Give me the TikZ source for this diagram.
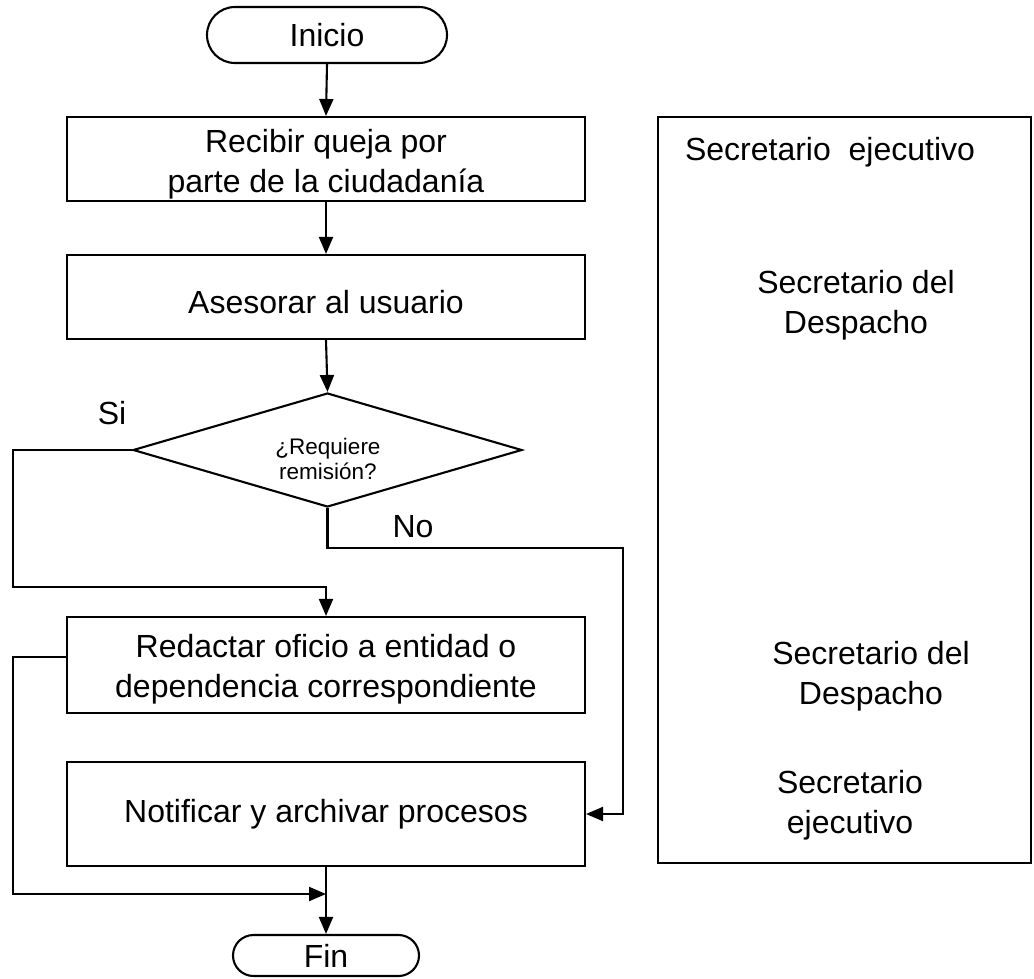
\documentclass[tikz,border=0pt]{standalone}
\usepackage{fontspec}
\setmainfont{Liberation Sans}
\usetikzlibrary{arrows.meta,shapes.misc,shapes.geometric}
\tikzset{
  lw/.style={line width=2.1pt},
  procbox/.style={draw,lw,rectangle,minimum width=518pt,inner sep=0pt},
  txt/.style={inner sep=0pt,align=center,font=\fontsize{32}{40}\selectfont},
  termbox/.style={draw,lw,rounded rectangle,inner sep=0pt,font=\fontsize{32}{36}\selectfont},
  decbox/.style={draw,lw,diamond,aspect=3.41,minimum width=389pt,minimum height=114pt,inner sep=0pt},
  dtxt/.style={inner sep=0pt,align=center,font=\fontsize{22.5}{25}\selectfont},
  arr/.style={lw,-{Triangle[length=17pt,width=14pt]}}
}
\begin{document}
\begin{tikzpicture}[x=1pt,y=-1pt]
\useasboundingbox[fill=white] (0,0) rectangle (1034,978);
% terminals
\node[termbox,minimum width=240pt,minimum height=56pt] (inicio) at (327,35) {Inicio};
\node[termbox,minimum width=186pt,minimum height=41pt] (fin) at (326,955.5) {Fin};
% process boxes
\node[procbox,minimum height=84pt] (b1) at (326,159) {};
\node[txt] (b1t) at (326,164) {Recibir queja por\\parte de la ciudadanía};
\node[procbox,minimum height=84pt] (b2) at (326,297) {};
\node[txt] (b2t) at (326,302) {Asesorar al usuario};
\node[procbox,minimum height=96pt] (b3) at (326,665) {};
\node[txt] (b3t) at (326,669) {Redactar oficio a entidad o\\dependencia correspondiente};
\node[procbox,minimum height=104pt] (b4) at (326,814) {};
\node[txt] (b4t) at (326,814) {Notificar y archivar procesos};
% decision
\node[decbox] (dec) at (327.5,450) {};
\node[dtxt] (dectext) at (328,459) {¿Requiere\\remisión?};
% labels
\node[txt] (si) at (112,413) {Si};
\node[txt] (no) at (413,527) {No};
% right lane
\node[draw,lw,rectangle,minimum width=373pt,minimum height=746pt,inner sep=0pt] (lane) at (844.5,490) {};
\node[txt] (r1) at (830,152) {Secretario\ \ ejecutivo};
\node[txt] (r2) at (856,305) {Secretario del\\Despacho};
\node[txt] (r3) at (871,676) {Secretario del\\Despacho};
\node[txt] (r4) at (850,805) {Secretario\\ejecutivo};
% coordinates
\coordinate (siA) at (13,450);
\coordinate (siB) at (13,587);
\coordinate (noA) at (623,548);
\coordinate (b3out) at (67,657);
\coordinate (loA) at (13,657);
\coordinate (loB) at (13,894);
\coordinate (loEnd) at (326,894);
% connectors
\draw[arr] (inicio.south) -- (b1.north);
\draw[arr] (b1.south) -- (b2.north);
\draw[arr] (b2.south) -- (dec.north);
\draw[arr] (dec.west) -- (siA) -- (siB) -| (b3.north);
\draw[arr] (dec.south) |- (noA) |- (b4.east);
\draw[arr] (b3out) -- (loA) -- (loB) -- (loEnd);
\draw[arr] (b4.south) -- (fin.north);
\end{tikzpicture}
\end{document}
